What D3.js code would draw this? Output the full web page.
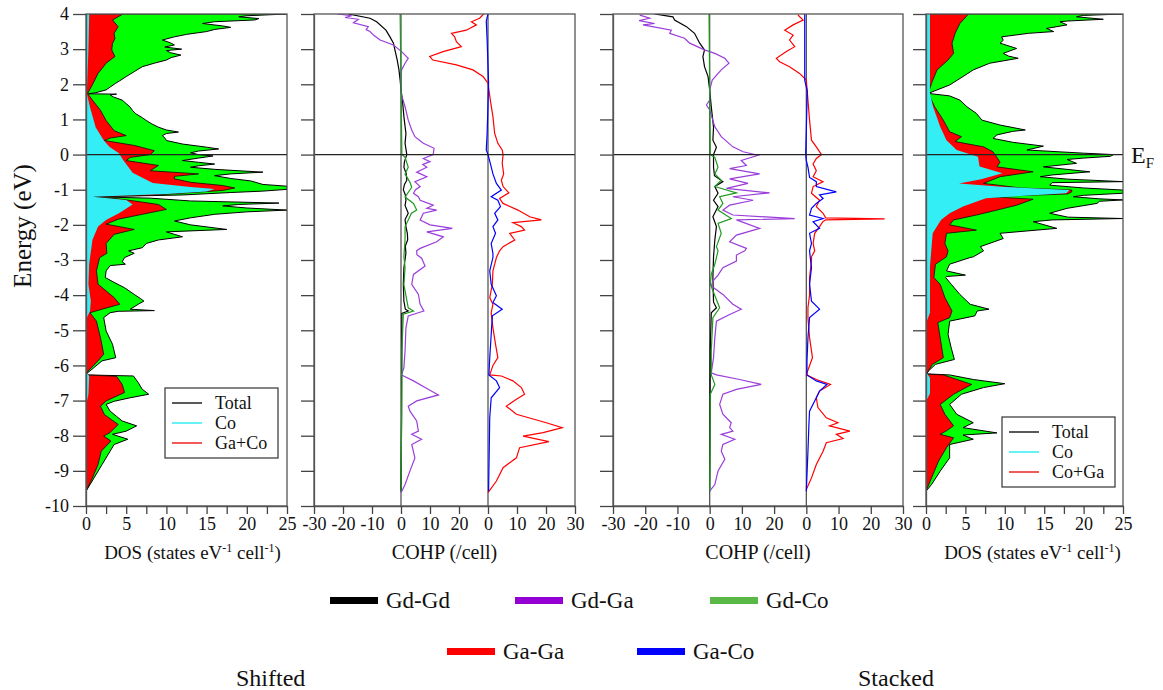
<!DOCTYPE html>
<html>
<head>
<meta charset="utf-8">
<script src="https://cdn.jsdelivr.net/npm/d3@7"></script>
<style>
  body { margin: 0; background: #fff; }
  svg text { font-family: 'Liberation Serif', 'DejaVu Serif', 'Times New Roman', Times, serif; fill: #111; }
</style>
</head>
<body>
<div id="vis"></div>
<script>
// ---- data: [energy (eV), value] ----
// Shifted DOS
var shiftTotal = [[4.0,25],[3.95,20],[3.92,19],[3.87,21.5],[3.83,21],[3.78,16],[3.73,14.5],[3.66,17],[3.62,18],[3.56,16],[3.50,15],[3.42,12.5],[3.35,11],[3.26,9.5],[3.18,10.5],[3.12,11],[3.06,9.8],[3.0,11.9],[2.96,10],[2.9,10.5],[2.83,11.8],[2.76,10.6],[2.69,10],[2.6,8.5],[2.5,7],[2.36,6],[2.22,5],[2.1,4.2],[2.03,3.7],[1.92,3],[1.84,2.5],[1.76,1.2],[1.73,0.3],[1.72,3.8],[1.70,3.0],[1.64,3.4],[1.55,4.5],[1.45,5],[1.35,5.5],[1.25,5.8],[1.16,6.2],[1.05,7],[0.97,7.5],[0.87,8.2],[0.78,9],[0.7,10],[0.64,11.5],[0.6,10],[0.54,9.5],[0.47,9.8],[0.40,10],[0.3,12],[0.21,15],[0.16,16.5],[0.1,14],[0.05,13],[0.0,14],[-0.04,15.8],[-0.1,14],[-0.17,12],[-0.22,14],[-0.27,16],[-0.32,14],[-0.36,13],[-0.42,16],[-0.5,22],[-0.55,18],[-0.6,16],[-0.68,18],[-0.75,20.5],[-0.85,22],[-0.9,25],[-0.99,25],[-1.04,22],[-1.08,18],[-1.15,12],[-1.2,0.7],[-1.24,8],[-1.32,13],[-1.38,24],[-1.42,19],[-1.46,17],[-1.52,20],[-1.58,25],[-1.63,20],[-1.70,16],[-1.8,13],[-1.89,11],[-2.0,13],[-2.13,17.5],[-2.2,10],[-2.27,11],[-2.34,12],[-2.43,9],[-2.53,7.5],[-2.65,7],[-2.74,5.3],[-2.81,6],[-2.93,4.8],[-3.05,4.5],[-3.12,4.9],[-3.16,3],[-3.31,2.5],[-3.5,2.4],[-3.65,3.6],[-3.79,4.8],[-3.98,6],[-4.1,6.8],[-4.17,7.2],[-4.26,6.5],[-4.40,5.5],[-4.44,8.5],[-4.46,4],[-4.5,3],[-4.64,2.2],[-5.02,2.5],[-5.4,3.3],[-5.78,3.7],[-5.87,2],[-6.06,1.0],[-6.21,0.2],[-6.27,0],[-6.30,5.9],[-6.49,6.5],[-6.68,7],[-6.82,7.8],[-6.92,5.5],[-7.02,3.5],[-7.11,2.5],[-7.30,3],[-7.45,3.8],[-7.58,4.5],[-7.72,6.3],[-7.87,5],[-7.96,3.3],[-8.10,5.2],[-8.25,3.5],[-8.44,3],[-8.82,2],[-9.2,1],[-9.58,0],[-10,0]];
var shiftGaCo = [[4.0,4.6],[3.83,3.3],[3.64,4],[3.45,3.5],[3.3,3.6],[3.16,3.3],[2.98,3.2],[2.79,3.6],[2.6,2.5],[2.45,2],[2.31,1.5],[2.03,0.9],[1.74,0.2],[1.55,0.8],[1.26,1.8],[0.97,2.5],[0.68,3.5],[0.54,5],[0.47,3],[0.40,2.3],[0.26,6],[0.11,8.5],[0.0,8],[-0.08,5.5],[-0.17,5],[-0.31,9],[-0.46,8],[-0.55,14],[-0.62,11],[-0.69,11],[-0.79,13],[-0.88,17],[-0.95,18.5],[-1.02,17],[-1.1,12],[-1.16,8],[-1.2,0.5],[-1.26,4],[-1.32,6],[-1.42,9],[-1.56,10],[-1.70,7],[-1.84,4],[-1.98,2.5],[-2.13,6],[-2.27,3.5],[-2.53,2.5],[-2.81,2.6],[-2.93,1.7],[-3.31,1.3],[-3.69,1.5],[-4.07,3.5],[-4.26,4.2],[-4.40,2],[-4.5,0.5],[-4.74,1.3],[-5.21,1.8],[-5.68,2.2],[-5.87,1.5],[-6.15,0.3],[-6.27,0],[-6.31,3.8],[-6.54,4.5],[-6.77,4.8],[-7.01,2.5],[-7.16,1.8],[-7.40,2.3],[-7.68,4],[-7.91,3],[-8.01,2.2],[-8.15,3.1],[-8.44,1.9],[-8.82,1.5],[-9.2,0.8],[-9.58,0],[-10,0]];
var shiftCo = [[4.0,0.4],[2.98,0.3],[1.74,0.1],[1.35,0.5],[0.78,1.2],[0.41,2.2],[0.22,2.9],[0.04,4.1],[-0.15,4.6],[-0.52,5.8],[-0.81,8.3],[-0.92,13],[-0.98,16],[-1.05,15],[-1.12,10],[-1.2,0.8],[-1.29,5],[-1.42,5.8],[-1.67,4.1],[-1.86,2.5],[-2.05,1.5],[-2.43,0.8],[-3.1,0.4],[-3.69,0.3],[-4.17,0.6],[-4.45,0.5],[-4.64,0.1],[-6.2,0.05],[-6.3,0.4],[-6.82,0.3],[-7.1,0.05],[-10,0]];

// Stacked DOS
var stackTotal = [[4.0,25],[3.96,20],[3.92,19.1],[3.85,22.5],[3.8,18],[3.78,17],[3.69,17.9],[3.59,15.3],[3.5,16.2],[3.45,13],[3.35,9.6],[3.25,9.8],[3.17,9.4],[3.02,11.5],[2.88,9.8],[2.8,10.5],[2.74,11.7],[2.6,8.1],[2.41,6],[2.22,4.7],[1.98,3.0],[1.84,1.4],[1.74,0.3],[1.67,3],[1.55,4.3],[1.36,5.2],[1.17,6.4],[0.98,7.1],[0.84,9.4],[0.70,12.6],[0.66,11],[0.56,9],[0.46,8.5],[0.35,11],[0.24,14.9],[0.13,12.8],[0.04,20],[0.0,23.8],[-0.05,23.4],[-0.1,20],[-0.14,17.9],[-0.25,19.1],[-0.35,14.9],[-0.49,20.8],[-0.58,16],[-0.63,14.5],[-0.7,18],[-0.77,25],[-0.8,16],[-0.87,15.7],[-0.95,20],[-1.01,25],[-1.1,25],[-1.16,20],[-1.20,18.7],[-1.26,22],[-1.29,25],[-1.33,22],[-1.39,21.7],[-1.53,17.9],[-1.67,15.7],[-1.78,18],[-1.82,25],[-1.86,16],[-1.91,13.6],[-2.1,16.6],[-2.24,9.4],[-2.39,9.8],[-2.62,6.9],[-2.74,7.3],[-2.91,6],[-2.93,5.6],[-3.12,3.0],[-3.31,2.6],[-3.43,5],[-3.47,2.6],[-3.5,2.5],[-3.69,3.2],[-3.98,4.3],[-4.26,5.6],[-4.40,8],[-4.45,6.5],[-4.59,6.2],[-4.74,3],[-5.12,2.8],[-5.5,3.2],[-5.83,3.6],[-5.97,1.2],[-6.16,0.3],[-6.24,0.1],[-6.27,3],[-6.4,6],[-6.52,10],[-6.63,7.3],[-6.82,4.5],[-7.11,3],[-7.39,3.9],[-7.63,6],[-7.77,4.7],[-7.92,9],[-7.98,4.7],[-8.1,6],[-8.25,3],[-8.63,3],[-9.01,1.8],[-9.39,0.7],[-9.58,0],[-10,0]];
var stackGaCo = [[4.0,5.4],[3.73,4.3],[3.45,3.7],[3.17,3.3],[2.88,3.5],[2.69,2.8],[2.41,1.4],[2.03,0.7],[1.74,0.3],[1.36,1.1],[0.98,2.2],[0.65,3],[0.51,4.5],[0.37,3.7],[0.22,7.3],[0.08,8.5],[-0.08,9],[-0.22,9.4],[-0.35,9],[-0.49,13.6],[-0.63,9.4],[-0.82,7.3],[-0.95,12],[-1.01,18.5],[-1.06,18.5],[-1.12,18],[-1.2,8],[-1.27,13.6],[-1.44,11.5],[-1.58,9],[-1.72,6.4],[-1.86,3.5],[-2.0,3],[-2.15,6.4],[-2.24,2.6],[-2.53,2.4],[-2.74,2.8],[-2.91,2.6],[-3.12,1.2],[-3.5,1.0],[-3.69,1.8],[-4.07,2.4],[-4.45,3.3],[-4.64,3],[-4.78,1.5],[-5.21,1.8],[-5.78,2.2],[-5.97,0.8],[-6.16,0.3],[-6.25,0],[-6.27,2.2],[-6.54,5.8],[-6.82,3.5],[-7.11,1.8],[-7.39,2.4],[-7.72,3.5],[-7.86,2.6],[-7.96,1.8],[-8.06,3.5],[-8.34,2.6],[-8.72,1.6],[-9.2,0.7],[-9.58,0],[-10,0]];
var stackCo = [[4.0,0.5],[1.74,0.5],[1.36,0.9],[0.79,1.8],[0.41,2.6],[0.13,3.9],[-0.06,6.6],[-0.34,6.8],[-0.53,9.7],[-0.7,7],[-0.82,4.2],[-0.92,10],[-1.01,18.2],[-1.1,17.8],[-1.24,7.6],[-1.48,4.7],[-1.67,3],[-1.86,1.9],[-2.24,0.85],[-3.19,0.5],[-4.5,0.5],[-4.74,0.1],[-6.2,0.05],[-6.35,0.5],[-6.8,0.5],[-7.0,0.05],[-10,0]];

// Shifted COHP
var shiftGdGd = [[4,-18.2],[3.88,-10.7],[3.78,-8.4],[3.54,-5.2],[3.35,-3.8],[3.17,-2.6],[2.98,-2.1],[2.69,-1.3],[2.41,-0.7],[2.12,-0.3],[1.84,0],[1.55,0.5],[1.08,1],[0.6,1.7],[0.32,1.4],[0,2],[-0.2,1.2],[-0.36,1],[-0.55,1.8],[-0.73,2],[-0.85,1.2],[-1.0,0.8],[-1.15,1.5],[-1.3,1.7],[-1.45,1.4],[-1.67,2.5],[-1.85,1.4],[-2.05,1.7],[-2.25,2.2],[-2.43,2.3],[-2.6,1.5],[-2.8,1.7],[-3.22,1.0],[-3.7,0.8],[-4.17,1],[-4.4,1.5],[-4.45,2.5],[-4.52,0.3],[-5.5,0.3],[-6.3,0.2],[-7.5,0.2],[-9.58,0]];
var shiftGdGa = [[4,-22],[3.95,-17],[3.9,-19.3],[3.85,-14.7],[3.75,-16.4],[3.64,-11.3],[3.55,-12],[3.5,-10.7],[3.4,-9.5],[3.26,-7.2],[3.12,-2.6],[2.93,0.2],[2.74,2.5],[2.6,1.4],[2.41,0.2],[2.12,0],[1.74,0],[1.36,1.4],[0.98,2.5],[0.70,3.7],[0.51,4.8],[0.32,7.7],[0.18,11.4],[0,11.1],[-0.11,7.7],[-0.2,10],[-0.28,7.5],[-0.36,8.9],[-0.5,5.4],[-0.63,8.9],[-0.77,4.8],[-0.91,6.6],[-1.0,5],[-1.1,4.3],[-1.2,6],[-1.3,6.6],[-1.44,11.1],[-1.53,8.9],[-1.58,12.3],[-1.67,7.7],[-1.86,6.6],[-2.0,10],[-2.1,17.7],[-2.2,8.9],[-2.34,14.6],[-2.48,12.3],[-2.67,6.6],[-2.74,5.4],[-2.85,5.5],[-2.95,7.1],[-3.17,8.3],[-3.41,4.3],[-3.69,3.7],[-3.98,6],[-4.26,6.6],[-4.45,7.9],[-4.59,2.5],[-4.93,1.7],[-5.59,1.4],[-6.06,1],[-6.27,0.2],[-6.44,4.3],[-6.63,8.3],[-6.84,12.9],[-7.01,5.4],[-7.16,2.5],[-7.3,3.1],[-7.58,5.4],[-7.87,6],[-7.96,3.7],[-8.1,7.1],[-8.25,3.7],[-8.63,4.8],[-9.0,3.1],[-9.39,1.4],[-9.62,0]];
var shiftGdCo = [[4,-0.3],[2,0],[0,0.3],[-0.08,1.4],[-0.36,2.5],[-0.55,1.4],[-0.79,3.1],[-0.93,3.7],[-1.21,1.4],[-1.39,4.3],[-1.58,5.4],[-1.67,3.6],[-1.86,2.5],[-2.05,1.4],[-2.43,1.4],[-2.9,1.0],[-3.22,1.4],[-3.7,1.0],[-4.36,2.5],[-4.45,4.3],[-4.54,0.8],[-5.59,0.3],[-6.5,0.3],[-9.58,0]];
var shiftGaGa = [[4,-1.5],[3.88,-2.9],[3.78,-5.7],[3.69,-4],[3.54,-7.5],[3.45,-12.6],[3.35,-11.5],[3.21,-10.9],[3.07,-9.2],[2.93,-15.5],[2.79,-20.1],[2.69,-19],[2.55,-10.9],[2.41,-5.2],[2.22,-1.7],[2.03,0],[1.55,0.8],[1.08,1.7],[0.6,2.3],[0.32,3.4],[0.13,4.9],[0,5.2],[-0.25,4.9],[-0.55,5.4],[-0.73,4.6],[-0.91,5.2],[-1.09,7.2],[-1.25,4],[-1.39,5.2],[-1.58,10.3],[-1.77,14.4],[-1.86,18.4],[-1.94,8.6],[-2.05,11.5],[-2.15,12.6],[-2.24,7.5],[-2.43,9.2],[-2.62,5.2],[-2.74,4],[-2.93,2.9],[-3.31,1.7],[-3.69,1.5],[-4.07,0.6],[-4.26,1.7],[-4.5,1.1],[-4.93,1.7],[-5.4,2.6],[-5.78,3.4],[-6.0,1.7],[-6.27,0.6],[-6.3,4.6],[-6.44,8.6],[-6.63,11.5],[-6.82,12.6],[-6.96,9.8],[-7.16,6.3],[-7.39,9.8],[-7.63,20.1],[-7.77,25.6],[-7.91,19],[-8.01,12.1],[-8.17,21],[-8.34,10.9],[-8.63,9.8],[-8.91,5.2],[-9.29,2.9],[-9.62,0]];
var shiftGaCo2 = [[4,0],[3.8,-0.6],[3.26,-0.3],[2.03,0.2],[0.6,-0.3],[0.13,-0.6],[0,0],[-0.25,0.8],[-0.55,1.7],[-0.82,2.9],[-1.01,4.6],[-1.2,1.1],[-1.3,3.4],[-1.48,4.3],[-1.67,2.3],[-1.86,3.4],[-2.05,1.7],[-2.24,2.6],[-2.53,1.1],[-2.81,1.7],[-2.93,1.7],[-3.31,0.6],[-3.69,1.1],[-4.02,2.9],[-4.21,1.7],[-4.4,4.9],[-4.59,1.5],[-5.12,1.1],[-5.78,0.6],[-6.27,0.3],[-6.44,2.9],[-6.63,4],[-6.92,1.1],[-7.49,0.6],[-9.58,0.2]];

// Stacked COHP
var stackGdGd = [[4,-17.1],[3.92,-11.4],[3.83,-10.9],[3.64,-7.2],[3.45,-4.7],[3.17,-3.1],[2.98,-1.6],[2.79,-2.1],[2.5,-1.6],[2.22,-0.5],[1.84,0],[1.36,0.5],[0.78,1.2],[0.41,1],[0.21,2.1],[0,1.2],[-0.36,1.2],[-0.6,1.5],[-0.77,4.1],[-0.91,1.6],[-1.1,2.6],[-1.3,1.2],[-1.48,2.6],[-1.77,1],[-2.05,2.1],[-2.43,1.6],[-2.91,1.2],[-3.5,1.0],[-4.2,1.2],[-4.36,2.1],[-4.5,0.5],[-5.5,0.2],[-9.58,0]];
var stackGdGa = [[3.97,-21.7],[3.88,-18.6],[3.81,-21.9],[3.73,-17.1],[3.69,-20.7],[3.54,-11.9],[3.45,-12.4],[3.31,-7.8],[3.17,-6.2],[2.98,-1.6],[2.88,1.6],[2.74,4.7],[2.6,6],[2.41,3.6],[2.12,0.8],[1.84,0],[1.55,0],[1.41,-1],[1.27,0],[0.79,1.6],[0.51,3.6],[0.22,7.2],[0.08,10.4],[-0.02,15],[-0.17,9.8],[-0.31,11.4],[-0.4,6.2],[-0.55,15.5],[-0.69,6.2],[-0.82,11.9],[-0.96,5.2],[-1.09,18.6],[-1.2,7.2],[-1.3,13.5],[-1.44,6.2],[-1.58,4.1],[-1.72,7.2],[-1.82,26.4],[-1.86,8.3],[-2.1,15.5],[-2.29,8.3],[-2.48,6.2],[-2.67,11.4],[-2.74,10.9],[-2.86,8.3],[-3.03,8.3],[-3.22,4.1],[-3.43,2.6],[-3.6,1],[-3.74,0.5],[-3.98,4.1],[-4.26,7.2],[-4.4,9.8],[-4.55,6.2],[-4.74,2.1],[-5.21,1.6],[-5.78,1.2],[-6.21,0.5],[-6.27,2.1],[-6.4,9.3],[-6.54,16],[-6.68,8.3],[-6.82,4.1],[-7.11,3.1],[-7.39,4.1],[-7.63,6.7],[-7.77,6.2],[-7.87,7.2],[-7.96,3.6],[-8.1,7.8],[-8.25,4.1],[-8.44,3.6],[-8.67,4.7],[-9.0,2.6],[-9.39,1.6],[-9.58,0]];
var stackGdCo = [[4,-0.2],[2,0],[0,0.2],[-0.08,1.6],[-0.36,2.6],[-0.55,1.6],[-0.73,3.6],[-0.91,1.6],[-1.09,8.3],[-1.2,3.1],[-1.39,4.1],[-1.58,2.6],[-1.82,6.7],[-1.96,2.6],[-2.24,3.6],[-2.62,2.1],[-2.74,2.6],[-3.12,1.6],[-3.4,0.5],[-3.69,0.2],[-4.36,3.1],[-4.64,1.0],[-5.59,0.5],[-6.27,0.5],[-6.54,1.6],[-6.82,0.2],[-9.58,0]];
var stackGaGa = [[3.97,-2.6],[3.83,-1],[3.69,-4.1],[3.54,-6.7],[3.4,-4.1],[3.26,-5.2],[3.07,-3.6],[2.93,-6.2],[2.74,-9.3],[2.64,-8.3],[2.5,-5.2],[2.31,-2.1],[2.12,0],[1.55,0.5],[0.98,1],[0.41,1.6],[0.22,3.1],[0,4.7],[-0.11,3.1],[-0.27,2.1],[-0.46,3.1],[-0.63,2.1],[-0.77,5.2],[-0.91,2.1],[-1.1,1.6],[-1.3,4.1],[-1.48,3.1],[-1.67,5.2],[-1.8,6],[-1.83,24.3],[-1.86,6],[-1.9,5.2],[-2.05,4.1],[-2.24,2.6],[-2.53,2.1],[-2.74,2.6],[-2.91,1.6],[-3.03,1.6],[-3.5,1.0],[-4.0,1.0],[-4.36,0.5],[-4.64,0.5],[-5.21,1],[-5.78,1.9],[-6.21,0.2],[-6.27,0],[-6.4,3.1],[-6.54,7.5],[-6.73,4.1],[-6.92,3.1],[-7.2,3.6],[-7.49,6.2],[-7.63,9.8],[-7.72,7.2],[-7.87,13.5],[-7.96,9.3],[-8.08,11.4],[-8.2,6.2],[-8.44,5.2],[-8.82,3.1],[-9.2,1.6],[-9.53,0]];
var stackGaCo2 = [[4,-0.5],[2.12,-0.5],[1.8,0.3],[0,-0.2],[-0.17,0],[-0.36,0.5],[-0.65,1],[-0.77,3.1],[-0.91,3.1],[-1.06,9.3],[-1.15,4.1],[-1.25,5.2],[-1.39,3.1],[-1.53,1.6],[-1.72,1],[-1.82,5.2],[-1.91,2.1],[-2.1,4.1],[-2.24,1],[-2.53,1.6],[-2.74,1.0],[-2.91,1.2],[-3.22,1.6],[-3.69,1.0],[-4.17,1.6],[-4.4,4.1],[-4.64,1.0],[-5.21,0.5],[-5.87,0.2],[-6.27,0.2],[-6.44,3.1],[-6.54,6.4],[-6.73,4.1],[-6.92,3.1],[-7.3,1.0],[-7.68,0.8],[-8.44,0.5],[-9.58,0]];

var energyTicks = d3.range(-10, 5, 1);
var dosTicks = d3.range(0, 25.1, 2.5);
var cohpTicks = d3.range(-30, 61, 10);
var cohpNames = ['Gd-Gd', 'Gd-Ga', 'Gd-Co', 'Ga-Ga', 'Ga-Co'];
var cohpColors = ['#000000', '#9b3ddb', '#1f9a1f', '#ff0000', '#0000ff'];
var cohpSwatch = ['#000000', '#9400d3', '#5ab847', '#ff0000', '#0000ff'];

var FONT = "'Liberation Serif', 'DejaVu Serif', 'Times New Roman', Times, serif";

var width = 1163;
var height = 690;

var svg = d3.select('#vis')
  .append('svg')
  .attr('width', width)
  .attr('height', height)
  .attr('font-family', FONT);

var y = d3.scaleLinear().domain([-10, 4]).range([506, 14]);

var panels = [
  { kind: 'dos', x0: 86, x1: 287, total: shiftTotal, gaco: shiftGaCo, co: shiftCo, labels: true },
  { kind: 'cohp', x0: 314, x1: 575, series: [shiftGdGd, shiftGdGa, shiftGdCo, shiftGaGa, shiftGaCo2] },
  { kind: 'cohp', x0: 613, x1: 903, series: [stackGdGd, stackGdGa, stackGdCo, stackGaGa, stackGaCo2] },
  { kind: 'dos', x0: 926, x1: 1123, total: stackTotal, gaco: stackGaCo, co: stackCo, labels: false }
];

panels.forEach(function(p, i) {
  var x = p.kind == 'dos'
    ? d3.scaleLinear().domain([0, 25]).range([p.x0, p.x1])
    : d3.scaleLinear().domain([-30, 60]).range([p.x0, p.x1]);

  var g = svg.append('g');

  svg.append('clipPath').attr('id', 'clip' + i)
    .append('rect')
    .attr('x', p.x0).attr('y', 14)
    .attr('width', p.x1 - p.x0).attr('height', 492);

  var plot = g.append('g').attr('clip-path', 'url(#clip' + i + ')');

  if (p.kind == 'dos') {
    var area = d3.area()
      .y(function(d) { return y(d[0]); })
      .x0(x(0))
      .x1(function(d) { return x(d[1]); });

    plot.append('path').attr('d', area(p.total))
      .attr('fill', '#00ff00').attr('stroke', '#000').attr('stroke-width', 1);
    plot.append('path').attr('d', area(p.gaco))
      .attr('fill', '#ff0000').attr('stroke', '#1a0000').attr('stroke-width', 0.8);
    plot.append('path').attr('d', area(p.co))
      .attr('fill', '#33eef5').attr('stroke', 'none');
  } else {
    // baselines of the two overlaid sub-plots
    [0, 30].forEach(function(v) {
      plot.append('line')
        .attr('x1', x(v)).attr('x2', x(v))
        .attr('y1', 14).attr('y2', 506)
        .attr('stroke', '#555').attr('stroke-width', 1.3);
    });
    p.series.forEach(function(s, k) {
      var off = k >= 3 ? 30 : 0;
      var line = d3.line()
        .x(function(d) { return x(d[1] + off); })
        .y(function(d) { return y(d[0]); });
      plot.append('path').attr('d', line(s))
        .attr('fill', 'none')
        .attr('stroke', cohpColors[k])
        .attr('stroke-width', 1.2);
    });
  }

  // Fermi level
  g.append('line')
    .attr('x1', p.x0).attr('x2', p.x1)
    .attr('y1', y(0)).attr('y2', y(0))
    .attr('stroke', '#222').attr('stroke-width', 1.3);

  // frame
  g.append('rect')
    .attr('x', p.x0).attr('y', 14)
    .attr('width', p.x1 - p.x0).attr('height', 492)
    .attr('fill', 'none').attr('stroke', '#555').attr('stroke-width', 1.3);

  var yAxis = d3.axisLeft(y)
    .tickValues(energyTicks)
    .tickSize(13)
    .tickSizeOuter(0)
    .tickPadding(4)
    .tickFormat(p.labels ? function(d) { return String(d); } : '');
  var ya = g.append('g')
    .attr('transform', 'translate(' + p.x0 + ',0)')
    .call(yAxis);

  var xAxis = d3.axisBottom(x)
    .tickSize(8)
    .tickSizeOuter(0)
    .tickPadding(3);
  if (p.kind == 'dos') {
    xAxis.tickValues(dosTicks).tickFormat(function(d) { return d % 5 == 0 ? String(d) : ''; });
  } else {
    xAxis.tickValues(cohpTicks).tickFormat(function(d) { return String(d > 20 ? d - 30 : d); });
  }
  var xa = g.append('g')
    .attr('transform', 'translate(0,506)')
    .call(xAxis);

  [ya, xa].forEach(function(a) {
    a.attr('font-family', FONT);
    a.select('.domain').attr('stroke', '#555').attr('stroke-width', 1.3);
    a.selectAll('.tick line').attr('stroke', '#444').attr('stroke-width', 1.3);
    a.selectAll('.tick text')
      .style('font-family', FONT)
      .style('font-size', '18px')
      .attr('fill', '#111');
  });

  // axis title
  var cx = (p.x0 + p.x1) / 2;
  if (p.kind == 'dos') {
    var t = g.append('text')
      .attr('x', cx + (i == 3 ? 8 : 6)).attr('y', 559)
      .attr('text-anchor', 'middle')
      .style('font-size', '19px');
    t.append('tspan').text('DOS (states eV');
    t.append('tspan').attr('dy', -7).style('font-size', '12px').text('-1');
    t.append('tspan').attr('dy', 7).text(' cell');
    t.append('tspan').attr('dy', -7).style('font-size', '12px').text('-1');
    t.append('tspan').attr('dy', 7).text(')');
  } else {
    g.append('text')
      .attr('x', cx).attr('y', 559)
      .attr('text-anchor', 'middle')
      .style('font-size', '20px')
      .text('COHP (/cell)');
  }

  // legend box inside the DOS panels
  if (p.kind == 'dos') {
    var lx = i == 0 ? 165 : 1002;
    var ly = i == 0 ? 388 : 417;
    var names = i == 0 ? ['Total', 'Co', 'Ga+Co'] : ['Total', 'Co', 'Co+Ga'];
    var cols = ['#222', '#33eef5', '#ee2222'];
    var leg = g.append('g').attr('transform', 'translate(' + lx + ',' + ly + ')');
    leg.append('rect').attr('width', 113).attr('height', 70)
      .attr('fill', '#fff').attr('stroke', '#333').attr('stroke-width', 1.2);
    names.forEach(function(n, k) {
      leg.append('line')
        .attr('x1', 7).attr('x2', 37)
        .attr('y1', 15 + k * 20).attr('y2', 15 + k * 20)
        .attr('stroke', cols[k]).attr('stroke-width', 1.5);
      leg.append('text')
        .attr('x', 50).attr('y', 21 + k * 20)
        .style('font-size', '18px')
        .text(n);
    });
  }
});

// y label
svg.append('text')
  .attr('transform', 'translate(31,226) rotate(-90)')
  .attr('text-anchor', 'middle')
  .style('font-size', '25px')
  .text('Energy (eV)');

// Fermi label
var ef = svg.append('text')
  .attr('x', 1131).attr('y', 163)
  .style('font-size', '24px');
ef.append('tspan').text('E');
ef.append('tspan').attr('dy', 5).style('font-size', '15px').text('F');

// bottom legend
var legendPos = [[330, 600], [515, 600], [710, 600], [447, 651], [637, 651]];
cohpNames.forEach(function(n, k) {
  var lg = svg.append('g')
    .attr('transform', 'translate(' + legendPos[k][0] + ',' + legendPos[k][1] + ')');
  lg.append('rect')
    .attr('x', 0).attr('y', -3)
    .attr('width', 48).attr('height', 7)
    .attr('fill', cohpSwatch[k]);
  lg.append('text')
    .attr('x', 56).attr('y', 8)
    .style('font-size', '23px')
    .text(n);
});

svg.append('text').attr('x', 236).attr('y', 686)
  .style('font-size', '24px').text('Shifted');
svg.append('text').attr('x', 858).attr('y', 686)
  .style('font-size', '24px').text('Stacked');
</script>
</body>
</html>
